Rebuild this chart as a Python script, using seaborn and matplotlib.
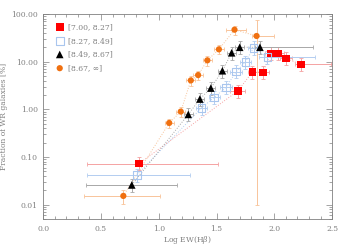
import numpy as np
import pandas as pd
import seaborn as sns
import matplotlib
matplotlib.use("Agg")
import matplotlib.pyplot as plt
from matplotlib.ticker import FixedLocator, MultipleLocator, LogLocator, NullFormatter, FormatStrFormatter

# bins in 12+log(O/H)
labels = ['[7.00, 8.27]', '[8.27, 8.49]', '[8.49, 8.67]', '[8.67, \u221e]']

red_x = [0.83, 1.685, 1.81, 1.90, 1.97, 2.03, 2.10, 2.23]
red_y = [0.073, 2.46, 6.1, 6.0, 15.0, 15.0, 11.8, 8.8]
red_xlo = [0.45, 0.065, 0.04, 0.05, 0.05, 0.05, 0.05, 0.05]
red_xhi = [0.68, 0.065, 0.04, 0.05, 0.05, 0.05, 0.05, 0.26]

blue_x = [0.81, 1.37, 1.48, 1.58, 1.67, 1.75, 1.82, 1.94]
blue_y = [0.042, 1.08, 1.79, 2.9, 6.2, 10.0, 19.7, 12.4]
blue_xlo = [0.43, 0.05, 0.05, 0.05, 0.05, 0.05, 0.05, 0.075]
blue_xhi = [0.46, 0.05, 0.05, 0.05, 0.05, 0.05, 0.05, 0.41]

black_x = [0.766, 1.255, 1.355, 1.45, 1.55, 1.63, 1.70, 1.875]
black_y = [0.026, 0.785, 1.65, 2.8, 6.47, 15.4, 20.1, 20.1]
black_xlo = [0.40, 0.04, 0.04, 0.04, 0.04, 0.04, 0.04, 0.04]
black_xhi = [0.39, 0.04, 0.04, 0.04, 0.04, 0.04, 0.04, 0.46]

orange_x = [0.693, 1.09, 1.19, 1.277, 1.34, 1.42, 1.52, 1.655, 1.846]
orange_y = [0.0153, 0.52, 0.90, 4.06, 5.25, 10.7, 18.2, 47.0, 34.7]
orange_xlo = [0.34, 0.04, 0.04, 0.04, 0.04, 0.04, 0.04, 0.07, 0.04]
orange_xhi = [0.32, 0.04, 0.04, 0.04, 0.04, 0.04, 0.04, 0.10, 0.15]
orange_ylo = [0.005, 0.12, 0.2, 0.9, 1.2, 2.4, 4.0, 10.0, 34.69]
orange_yhi = [0.005, 0.12, 0.2, 0.9, 1.2, 2.4, 4.0, 10.0, 40.0]

sns.set_style("ticks")
plt.rcParams['font.family'] = ['DejaVu Serif']
plt.rcParams['mathtext.fontset'] = 'dejavuserif'

fig = plt.figure(figsize=(3.46, 2.47), dpi=100)
ax = fig.add_axes([0.125, 0.113, 0.835, 0.830])

grey = '#808080'
series = [
    (red_x, red_y, red_xlo, red_xhi, None, None, '#f5a3a3'),
    (blue_x, blue_y, blue_xlo, blue_xhi, None, None, '#b3cdf0'),
    (black_x, black_y, black_xlo, black_xhi, None, None, '#a8a8a8'),
    (orange_x, orange_y, orange_xlo, orange_xhi, orange_ylo, orange_yhi, '#f8c49a'),
]

frames = []
for (x, y, xlo, xhi, ylo, yhi, ecol), lab in zip(series, labels):
    y = np.array(y)
    if ylo is None:
        ylo = y * 0.28
        yhi = y * 0.35
    ax.errorbar(x, y, xerr=[xlo, xhi], yerr=[ylo, yhi], fmt='none', ecolor=ecol,
                elinewidth=0.7, capsize=1.5, capthick=0.6, zorder=2)
    ax.plot(x, y, linestyle=':', color=ecol, linewidth=0.7, zorder=1)
    frames.append(pd.DataFrame({'x': x, 'y': y, 'bin': lab}))

df = pd.concat(frames, ignore_index=True)
pal = {labels[0]: '#ff0000', labels[1]: '#a9c6ee', labels[2]: '#000000', labels[3]: '#f07010'}
mks = {labels[0]: 's', labels[1]: 's', labels[2]: '^', labels[3]: 'o'}
for lab in labels:
    sub = df[df['bin'] == lab]
    if lab == labels[1]:
        ax.scatter(sub['x'], sub['y'], marker='s', s=30, facecolors='none',
                   edgecolors=pal[lab], linewidths=0.8, zorder=3, label=lab)
    else:
        sns.scatterplot(data=sub, x='x', y='y', color=pal[lab], marker=mks[lab],
                        s=30 if lab != labels[3] else 20, edgecolor='none',
                        ax=ax, zorder=3, label=lab)

ax.set_yscale('log')
ax.set_xlim(0, 2.5)
ax.set_ylim(0.005, 100)
ax.xaxis.set_major_locator(FixedLocator([0.0, 0.5, 1.0, 1.5, 2.0, 2.5]))
ax.xaxis.set_minor_locator(MultipleLocator(0.1))
ax.xaxis.set_major_formatter(FormatStrFormatter('%.1f'))
ax.yaxis.set_major_locator(FixedLocator([0.01, 0.1, 1, 10, 100]))
ax.yaxis.set_major_formatter(FormatStrFormatter('%.2f'))
ax.yaxis.set_minor_locator(LogLocator(base=10, subs=np.arange(2, 10)))
ax.yaxis.set_minor_formatter(NullFormatter())

ax.tick_params(which='both', direction='in', top=True, right=True, colors=grey,
               labelsize=5.5, labelcolor=grey, width=0.5)
ax.tick_params(which='major', length=4, pad=4)
ax.tick_params(which='minor', length=2)
for s in ax.spines.values():
    s.set_color(grey)
    s.set_linewidth(0.6)

ax.set_xlabel(r'Log EW(H$\beta$)', fontsize=5.5, color=grey, labelpad=1)
ax.set_ylabel('Fraction of WR galaxies [%]', fontsize=5.5, color=grey, labelpad=2)

leg = ax.legend(loc='upper left', frameon=False, fontsize=5.5, handletextpad=0.6,
                labelspacing=0.75, borderaxespad=0.5, handlelength=1.0,
                bbox_to_anchor=(0.02, 0.99))
for t in leg.get_texts():
    t.set_color(grey)

fig.savefig('out.png', dpi=100)
